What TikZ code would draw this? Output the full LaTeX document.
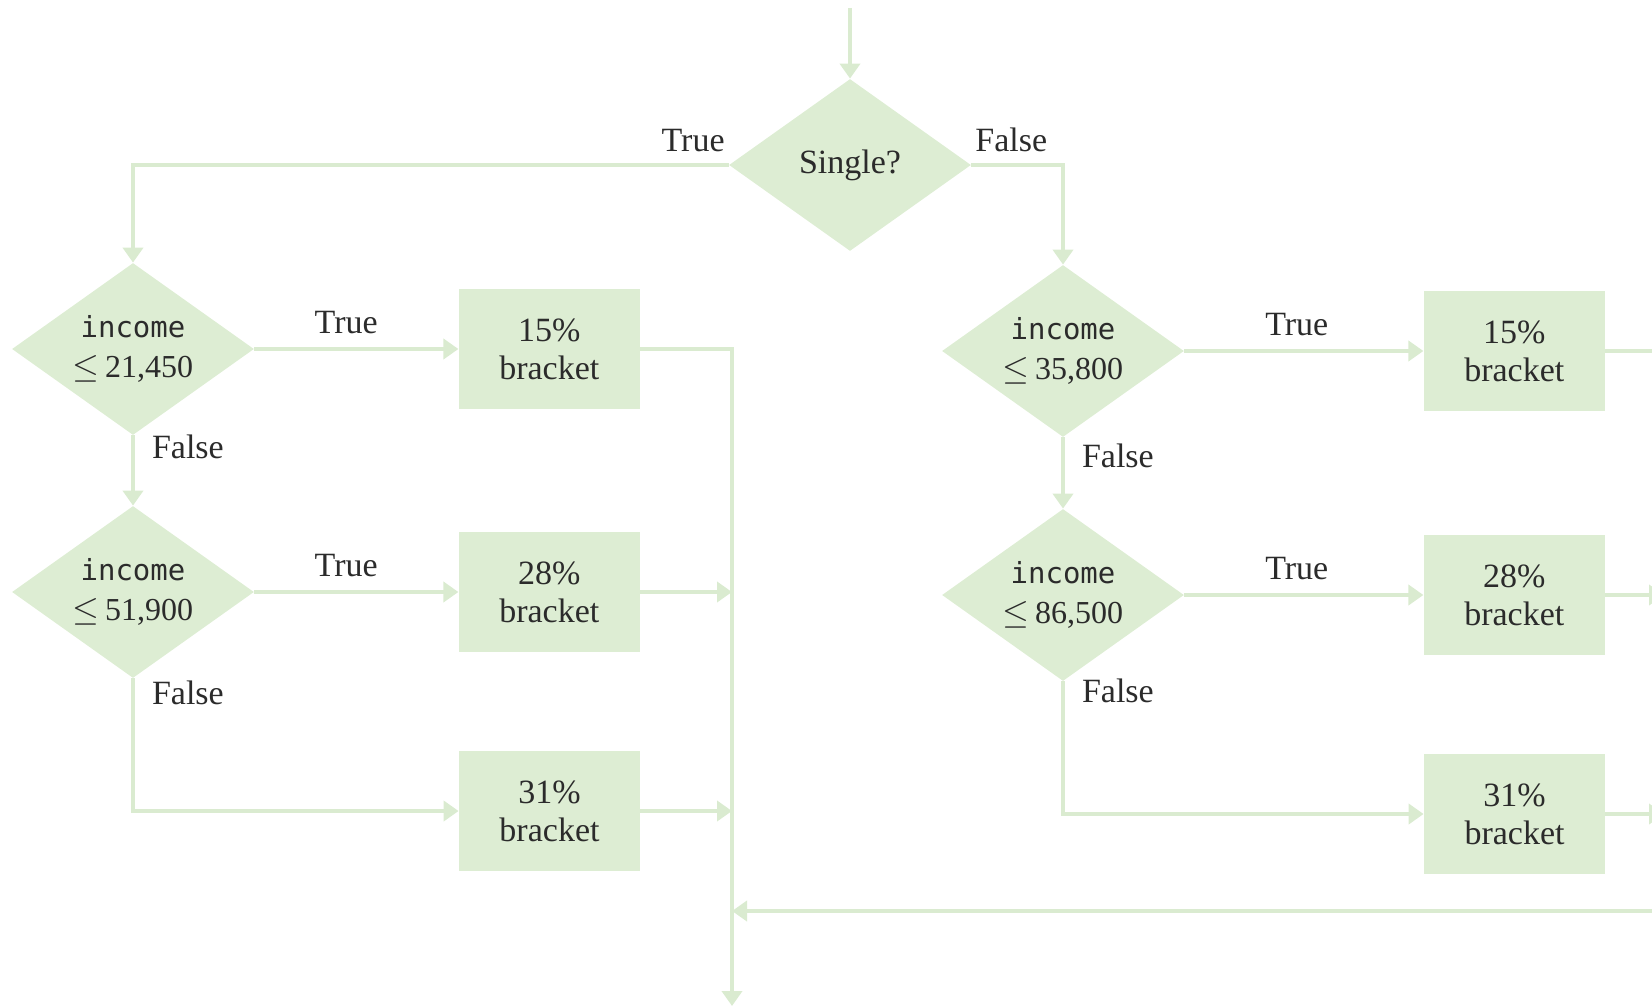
\documentclass[tikz,border=0pt]{standalone}
\usepackage{fontspec}
\setmainfont{Liberation Serif}
\setmonofont{DejaVu Sans Mono}
\usetikzlibrary{positioning,arrows.meta,shapes.geometric}
\definecolor{flowFill}{HTML}{DDEDD3}
\definecolor{flowLine}{HTML}{DAEBD0}
\definecolor{flowText}{HTML}{2B2B2B}
\newcommand{\incle}[1]{{\ttfamily\fontsize{14.5}{21}\selectfont income}\\[1pt]{\fontsize{16}{20}\selectfont$\leq$\,#1}}

\begin{document}
\begin{tikzpicture}[x=0.5pt, y=-0.5pt, >={Triangle[length=7.5pt,width=10pt]},
          font=\fontsize{17}{19}\selectfont, text=flowText,
          test/.style={diamond, aspect=1.42, fill=flowFill, minimum width=121pt, minimum height=86pt, inner sep=0pt, align=center},
          brk/.style={fill=flowFill, minimum width=90.5pt, minimum height=60pt, inner sep=0pt, align=center},
          lbl/.style={inner sep=0pt},
          flow/.style={draw=flowLine, line width=2pt}]
        \clip (0,0) rectangle (1652,1006);
        \coordinate (in) at (850,8);
        \coordinate (mbot) at (732,1006);
        \coordinate (edge) at (1664,911);
        % single / married split
        \node[test] (s) at (850,165) {Single?};
        \node[test] (l1) at (133,349) {\incle{21,450}};
        \node[test] (l2) at (133,592) {\incle{51,900}};
        \node[test] (r1) at (1063,351) {\incle{35,800}};
        \node[test] (r2) at (1063,595) {\incle{86,500}};
        % brackets
        \node[brk, right=102pt of l1] (lb1) {15\%\\bracket};
        \node[brk, right=102pt of l2] (lb2) {28\%\\bracket};
        \node[brk] (lb3) at (549.5,811) {31\%\\bracket};
        \node[brk, right=119.5pt of r1] (rb1) {15\%\\bracket};
        \node[brk, right=119.5pt of r2] (rb2) {28\%\\bracket};
        \node[brk] (rb3) at (1514.5,814) {31\%\\bracket};
        \draw[flow,->] (in) -- (s);
        \draw[flow,->] (s.west) -| node[lbl, pos=0, anchor=base east, xshift=-1pt, yshift=7pt] {True} (l1.north);
        \draw[flow,->] (s.east) -| node[lbl, pos=0, anchor=base west, xshift=1pt, yshift=7pt] {False} (r1.north);
        \draw[flow,->] (l1.east) -- node[lbl, pos=0.45, anchor=base, yshift=8pt] {True} (lb1.west);
        \draw[flow,->] (l1.south) -- node[lbl, pos=0.33, anchor=base west, xshift=8.5pt] {False} (l2.north);
        \draw[flow,->] (l2.east) -- node[lbl, pos=0.45, anchor=base, yshift=8pt] {True} (lb2.west);
        \draw[flow,->] (l2.south) |- node[lbl, pos=0.1, anchor=base west, xshift=8.5pt] {False} (lb3.west);
        \draw[flow,->] (r1.east) -- node[lbl, pos=0.47, anchor=base, yshift=8pt] {True} (rb1.west);
        \draw[flow,->] (r1.south) -- node[lbl, pos=0.42, anchor=base west, xshift=8.5pt] {False} (r2.north);
        \draw[flow,->] (r2.east) -- node[lbl, pos=0.47, anchor=base, yshift=8pt] {True} (rb2.west);
        \draw[flow,->] (r2.south) |- node[lbl, pos=0.08, anchor=base west, xshift=8.5pt] {False} (rb3.west);
        % merge
        \draw[flow,->] (lb1.east) -- (lb1.east -| mbot) -- (mbot);
        \draw[flow,->] (lb2.east) -- (lb2.east -| mbot);
        \draw[flow,->] (lb3.east) -- (lb3.east -| mbot);
        \draw[flow] (rb1.east) -- (rb1.east -| edge);
        \draw[flow,->] (rb2.east) -- (rb2.east -| edge);
        \draw[flow,->] (rb3.east) -- (rb3.east -| edge);
        \draw[flow,->] (edge) -- (edge -| mbot);
      \end{tikzpicture}
\end{document}
